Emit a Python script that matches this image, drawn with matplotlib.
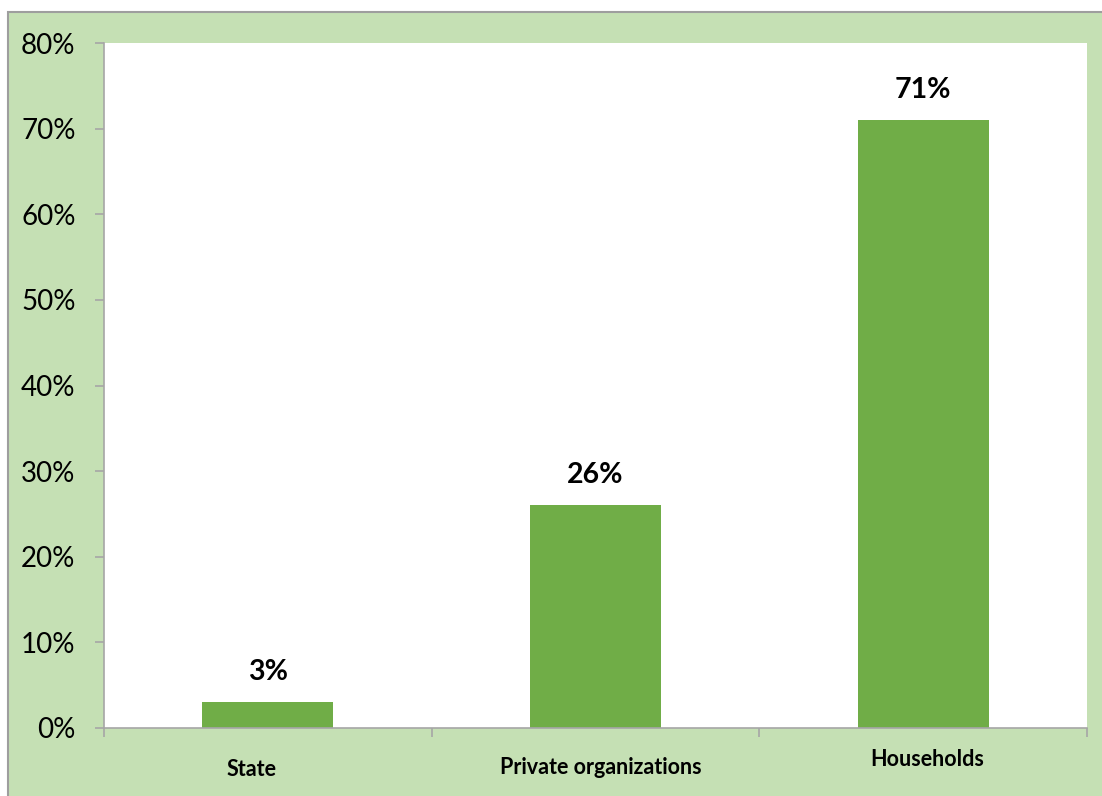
import matplotlib
matplotlib.use("Agg")
import matplotlib.pyplot as plt
from matplotlib.patches import Rectangle
from matplotlib.ticker import FuncFormatter, FixedLocator
import matplotlib.transforms as mtransforms

categories = ["State", "Private organizations", "Households"]
shares = [3, 26, 71]
y_ticks = [0, 10, 20, 30, 40, 50, 60, 70, 80]

# per-label nudges for the category captions (pixels: dx, dy)
caption_nudge = [(-16, -42), (5, -40), (4, -32)]

W, H = 1102, 796
fig = plt.figure(figsize=(W / 100, H / 100), dpi=100)
fig.patch.set_facecolor("white")

bg_green = "#C5E0B4"
bar_green = "#70AD47"
axis_grey = "#A6A6A6"

# outer panel
fig.patches.append(Rectangle((8 / W, -0.05), 1.1, 1 - 12 / H + 0.05,
                             transform=fig.transFigure, facecolor=bg_green,
                             edgecolor="#9E9E9E", linewidth=1.5, zorder=-10))

ax = fig.add_axes([104 / W, 1 - 728 / H, (1087 - 104) / W, (728 - 43) / H])
ax.set_zorder(5)
ax.set_facecolor("white")

x = list(range(len(categories)))
ax.bar(x, shares, width=0.4, color=bar_green, zorder=2)

ax.set_xlim(-0.5, len(categories) - 0.5)
ax.set_ylim(0, 80)

for s in ["top", "right"]:
    ax.spines[s].set_visible(False)
for s in ["left", "bottom"]:
    ax.spines[s].set_color(axis_grey)
    ax.spines[s].set_linewidth(1.2)

font = "Lato"
ax.yaxis.set_major_locator(FixedLocator(y_ticks))
ax.yaxis.set_major_formatter(FuncFormatter(lambda v, p: f"{v:.0f}%"))
ax.tick_params(axis="y", length=6.5, width=1.2, color=axis_grey, pad=14,
               labelsize=20, labelcolor="black")
for lab in ax.get_yticklabels():
    lab.set_fontfamily(font)

ax.xaxis.set_major_locator(FixedLocator([i - 0.5 for i in range(len(categories) + 1)]))
ax.set_xticklabels([])
ax.tick_params(axis="x", length=6.5, width=1.2, color=axis_grey)

for i, (cat, (dx, dy)) in enumerate(zip(categories, caption_nudge)):
    tr = ax.get_xaxis_transform() + mtransforms.ScaledTranslation(dx / 100, dy / 100, fig.dpi_scale_trans)
    ax.text(i, 0, cat, transform=tr, ha="center", va="center",
            fontsize=15.5, fontweight="bold", family=font, color="black")

for i, v in enumerate(shares):
    ax.annotate(f"{v}%", (i, v), xytext=(0, 30), textcoords="offset pixels",
                ha="center", va="center", fontsize=20.5, fontweight="bold",
                family=font, color="black")

fig.savefig("out.png", dpi=100)
